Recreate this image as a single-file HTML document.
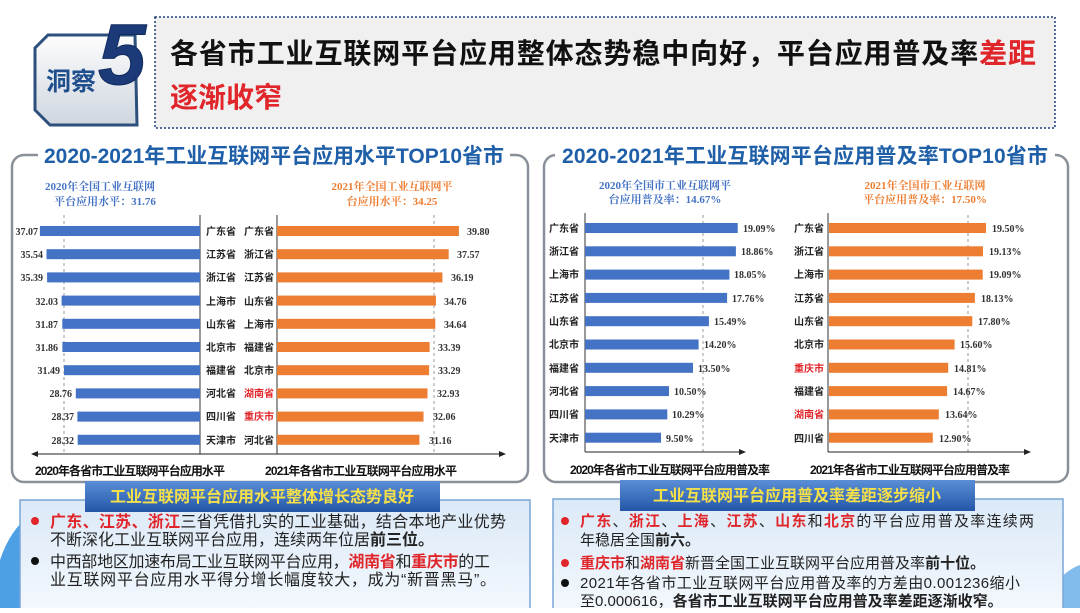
<!DOCTYPE html>
<html><head><meta charset="utf-8"><style>
body{margin:0;width:1080px;height:608px;overflow:hidden;background:#fff;font-family:"Liberation Sans","Noto Sans CJK SC",sans-serif}
svg text{font-family:"Liberation Sans","Noto Sans CJK SC",sans-serif}
svg .v, svg .v text{font-family:"Liberation Serif","Noto Serif CJK SC",serif;font-size:10px;font-weight:bold;fill:#333}
.p{font-size:10px;font-weight:bold;fill:#222}
svg .r{fill:#e0262a}
</style></head><body>
<svg width="1080" height="608" viewBox="0 0 1080 608" xmlns="http://www.w3.org/2000/svg">
<defs>
<linearGradient id="bg1" x1="0" y1="0" x2="0" y2="1"><stop offset="0" stop-color="#fdfdfd"/><stop offset="1" stop-color="#cfd6df"/></linearGradient>
<linearGradient id="ban" x1="0" y1="0" x2="0" y2="1"><stop offset="0" stop-color="#5a8fd6"/><stop offset="1" stop-color="#2456a8"/></linearGradient>
<linearGradient id="box" x1="0" y1="0" x2="0" y2="1"><stop offset="0" stop-color="#dbe9f7"/><stop offset="1" stop-color="#f3f8fd"/></linearGradient>
<marker id="ar" markerWidth="8" markerHeight="8" refX="6" refY="3" orient="auto"><path d="M0,0 L7,3 L0,6z" fill="#222"/></marker>
<marker id="al" markerWidth="8" markerHeight="8" refX="1" refY="3" orient="auto"><path d="M7,0 L0,3 L7,6z" fill="#222"/></marker>
</defs>
<!-- header -->
<rect x="155" y="17" width="900" height="111" fill="#f0f0f0" stroke="#1f3f7a" stroke-width="1.5" stroke-dasharray="2,2"/>
<path d="M48,35 L135,35 L137,125 L50,125 L35,110 L35,48 Z" fill="url(#bg1)" stroke="#2c4f7c" stroke-width="3"/>
<text x="46" y="90" font-size="25" font-weight="bold" fill="#1f4e8c">洞察</text>
<text x="98" y="84" font-size="86" font-weight="bold" font-style="italic" fill="#1c3a78" stroke="#0f2a5c" stroke-width="1" style="font-family:'Liberation Sans',sans-serif">5</text>
<text x="170" y="63" font-size="28" font-weight="bold" fill="#111" textLength="866">各省市工业互联网平台应用整体态势稳中向好，平台应用普及率<tspan class="r">差距</tspan></text>
<text x="170" y="107" font-size="28" font-weight="bold" fill="#e0262a">逐渐收窄</text>

<!-- panels -->
<rect x="12" y="155" width="516" height="327" rx="12" fill="#fff" stroke="#8a9099" stroke-width="2.5"/>
<rect x="544" y="155" width="524" height="327" rx="12" fill="#fff" stroke="#8a9099" stroke-width="2.5"/>
<rect x="38" y="145" width="472" height="22" fill="#fff"/>
<rect x="555" y="145" width="500" height="22" fill="#fff"/>
<text x="44" y="163" font-size="21" font-weight="bold" fill="#1f5fa8" textLength="460">2020-2021年工业互联网平台应用水平TOP10省市</text>
<text x="562" y="163" font-size="21" font-weight="bold" fill="#1f5fa8" textLength="486">2020-2021年工业互联网平台应用普及率TOP10省市</text>

<!-- left chart -->
<text x="100" y="190" text-anchor="middle" class="v" style="fill:#4472c4;font-size:11px">2020年全国工业互联网</text>
<text x="105" y="205" text-anchor="middle" class="v" style="fill:#4472c4;font-size:11px">平台应用水平：31.76</text>
<text x="392" y="190" text-anchor="middle" class="v" style="fill:#ed7d31;font-size:11px">2021年全国工业互联网平</text>
<text x="392" y="205" text-anchor="middle" class="v" style="fill:#ed7d31;font-size:11px">台应用水平：34.25</text>
<line x1="64" y1="215" x2="64" y2="452" stroke="#999" stroke-dasharray="3,3"/>
<line x1="434" y1="215" x2="434" y2="452" stroke="#999" stroke-dasharray="3,3"/>
<line x1="200" y1="215" x2="200" y2="454" stroke="#333"/>
<line x1="277" y1="215" x2="277" y2="454" stroke="#333"/>
<line x1="32" y1="454" x2="505" y2="454" stroke="#222" marker-start="url(#al)" marker-end="url(#ar)"/>
<g fill="#4472c4">
<rect x="39.9" y="226" width="160.1" height="10"/><rect x="46.5" y="249.2" width="153.5" height="10"/><rect x="47.1" y="272.4" width="152.9" height="10"/><rect x="61.6" y="295.6" width="138.4" height="10"/><rect x="62.3" y="318.8" width="137.7" height="10"/><rect x="62.4" y="342" width="137.6" height="10"/><rect x="64" y="365.2" width="136" height="10"/><rect x="75.8" y="388.4" width="124.2" height="10"/><rect x="77.4" y="411.6" width="122.6" height="10"/><rect x="77.7" y="434.8" width="122.3" height="10"/>
</g>
<g fill="#ed7d31">
<rect x="277" y="226" width="181.9" height="10"/><rect x="277" y="249.2" width="171.7" height="10"/><rect x="277" y="272.4" width="165.4" height="10"/><rect x="277" y="295.6" width="158.9" height="10"/><rect x="277" y="318.8" width="158.3" height="10"/><rect x="277" y="342" width="152.6" height="10"/><rect x="277" y="365.2" width="152.1" height="10"/><rect x="277" y="388.4" width="150.5" height="10"/><rect x="277" y="411.6" width="146.5" height="10"/><rect x="277" y="434.8" width="142.4" height="10"/>
</g>
<g class="v" text-anchor="end">
<text x="38" y="235">37.07</text><text x="43" y="258">35.54</text><text x="43" y="281">35.39</text><text x="58" y="305">32.03</text><text x="58" y="328">31.87</text><text x="58" y="351">31.86</text><text x="60" y="374">31.49</text><text x="72" y="397">28.76</text><text x="74" y="420">28.37</text><text x="74" y="444">28.32</text>
</g>
<g class="v">
<text x="467" y="235">39.80</text><text x="457" y="258">37.57</text><text x="451" y="281">36.19</text><text x="444" y="305">34.76</text><text x="444" y="328">34.64</text><text x="438" y="351">33.39</text><text x="438" y="374">33.29</text><text x="437" y="397">32.93</text><text x="433" y="420">32.06</text><text x="429" y="444">31.16</text>
</g>
<g class="p" text-anchor="middle">
<text x="221" y="235">广东省</text><text x="221" y="258">江苏省</text><text x="221" y="281">浙江省</text><text x="221" y="305">上海市</text><text x="221" y="328">山东省</text><text x="221" y="351">北京市</text><text x="221" y="374">福建省</text><text x="221" y="397">河北省</text><text x="221" y="420">四川省</text><text x="221" y="444">天津市</text>
<text x="259" y="235">广东省</text><text x="259" y="258">浙江省</text><text x="259" y="281">江苏省</text><text x="259" y="305">山东省</text><text x="259" y="328">上海市</text><text x="259" y="351">福建省</text><text x="259" y="374">北京市</text><text x="259" y="397" class="r">湖南省</text><text x="259" y="420" class="r">重庆市</text><text x="259" y="444">河北省</text>
</g>
<text x="35" y="475" font-size="12" font-weight="bold" fill="#111" textLength="190">2020年各省市工业互联网平台应用水平</text>
<text x="265" y="475" font-size="12" font-weight="bold" fill="#111" textLength="192">2021年各省市工业互联网平台应用水平</text>

<!-- right chart -->
<text x="665" y="189" text-anchor="middle" class="v" style="fill:#4472c4;font-size:11px">2020年全国市工业互联网平</text>
<text x="665" y="203" text-anchor="middle" class="v" style="fill:#4472c4;font-size:11px">台应用普及率：14.67%</text>
<text x="925" y="189" text-anchor="middle" class="v" style="fill:#ed7d31;font-size:11px">2021年全国市工业互联网</text>
<text x="925" y="203" text-anchor="middle" class="v" style="fill:#ed7d31;font-size:11px">平台应用普及率：17.50%</text>
<line x1="703" y1="215" x2="703" y2="452" stroke="#999" stroke-dasharray="3,3"/>
<line x1="968" y1="215" x2="968" y2="452" stroke="#999" stroke-dasharray="3,3"/>
<line x1="585" y1="213" x2="585" y2="452" stroke="#333"/>
<line x1="828" y1="213" x2="828" y2="452" stroke="#333"/>
<line x1="585" y1="452" x2="745" y2="452" stroke="#222" marker-end="url(#ar)"/>
<line x1="828" y1="452" x2="1030" y2="452" stroke="#222" marker-end="url(#ar)"/>
<g fill="#4472c4">
<rect x="585" y="223" width="152.7" height="10"/><rect x="585" y="246.3" width="150.9" height="10"/><rect x="585" y="269.6" width="144.4" height="10"/><rect x="585" y="292.9" width="142.1" height="10"/><rect x="585" y="316.2" width="123.9" height="10"/><rect x="585" y="339.5" width="113.6" height="10"/><rect x="585" y="362.8" width="108" height="10"/><rect x="585" y="386.1" width="84" height="10"/><rect x="585" y="409.4" width="82.3" height="10"/><rect x="585" y="432.7" width="76" height="10"/>
</g>
<g fill="#ed7d31">
<rect x="829" y="223" width="157" height="10"/><rect x="829" y="246.3" width="154" height="10"/><rect x="829" y="269.6" width="153.7" height="10"/><rect x="829" y="292.9" width="145.9" height="10"/><rect x="829" y="316.2" width="143.3" height="10"/><rect x="829" y="339.5" width="125.6" height="10"/><rect x="829" y="362.8" width="119.2" height="10"/><rect x="829" y="386.1" width="118.1" height="10"/><rect x="829" y="409.4" width="109.8" height="10"/><rect x="829" y="432.7" width="103.8" height="10"/>
</g>
<g class="v">
<text x="743" y="232">19.09%</text><text x="741" y="255">18.86%</text><text x="734" y="278">18.05%</text><text x="732" y="302">17.76%</text><text x="714" y="325">15.49%</text><text x="704" y="348">14.20%</text><text x="698" y="372">13.50%</text><text x="674" y="395">10.50%</text><text x="672" y="418">10.29%</text><text x="666" y="442">9.50%</text>
<text x="992" y="232">19.50%</text><text x="989" y="255">19.13%</text><text x="989" y="278">19.09%</text><text x="981" y="302">18.13%</text><text x="978" y="325">17.80%</text><text x="960" y="348">15.60%</text><text x="954" y="372">14.81%</text><text x="953" y="395">14.67%</text><text x="945" y="418">13.64%</text><text x="939" y="442">12.90%</text>
</g>
<g class="p" text-anchor="end">
<text x="579" y="232">广东省</text><text x="579" y="255">浙江省</text><text x="579" y="278">上海市</text><text x="579" y="302">江苏省</text><text x="579" y="325">山东省</text><text x="579" y="348">北京市</text><text x="579" y="372">福建省</text><text x="579" y="395">河北省</text><text x="579" y="418">四川省</text><text x="579" y="442">天津市</text>
<text x="824" y="232">广东省</text><text x="824" y="255">浙江省</text><text x="824" y="278">上海市</text><text x="824" y="302">江苏省</text><text x="824" y="325">山东省</text><text x="824" y="348">北京市</text><text x="824" y="372" class="r">重庆市</text><text x="824" y="395">福建省</text><text x="824" y="418" class="r">湖南省</text><text x="824" y="442">四川省</text>
</g>
<text x="570" y="474" font-size="12" font-weight="bold" fill="#111" textLength="200">2020年各省市工业互联网平台应用普及率</text>
<text x="810" y="474" font-size="12" font-weight="bold" fill="#111" textLength="200">2021年各省市工业互联网平台应用普及率</text>

<!-- bottom boxes -->
<path d="M0,560 Q10,530 30,515 L30,608 L0,608Z" fill="#2f8fe0" opacity="0.85"/>
<path d="M1050,590 Q1065,570 1080,565 L1080,608 L1050,608Z" fill="#2f8fe0" opacity="0.6"/>
<rect x="20" y="500" width="510" height="110" fill="url(#box)" stroke="#7aa6d6" stroke-width="1.5"/>
<rect x="553" y="499" width="510" height="112" fill="url(#box)" stroke="#7aa6d6" stroke-width="1.5"/>
<rect x="85" y="481" width="355" height="31" fill="url(#ban)"/>
<rect x="620" y="480" width="355" height="31" fill="url(#ban)"/>
<text x="262" y="502" text-anchor="middle" font-size="16" font-weight="bold" fill="#f5e04a">工业互联网平台应用水平整体增长态势良好</text>
<text x="797" y="501" text-anchor="middle" font-size="16" font-weight="bold" fill="#f5e04a">工业互联网平台应用普及率差距逐步缩小</text>

<g font-size="16" fill="#222">
<circle cx="35" cy="521" r="4" fill="#e0262a"/>
<text x="50" y="527" textLength="456"><tspan class="r" font-weight="bold">广东、江苏、浙江</tspan>三省凭借扎实的工业基础，结合本地产业优势</text>
<text x="50" y="545">不断深化工业互联网平台应用，连续两年位居<tspan font-weight="bold">前三位。</tspan></text>
<circle cx="35" cy="561" r="4" fill="#111"/>
<text x="50" y="567" textLength="440">中西部地区加速布局工业互联网平台应用，<tspan class="r" font-weight="bold">湖南省</tspan>和<tspan class="r" font-weight="bold">重庆市</tspan>的工</text>
<text x="50" y="585" textLength="446">业互联网平台应用水平得分增长幅度较大，成为“新晋黑马”。</text>
</g>
<g font-size="15" fill="#222">
<circle cx="565" cy="521" r="4" fill="#e0262a"/>
<text x="580" y="526" textLength="454"><tspan class="r" font-weight="bold">广东</tspan>、<tspan class="r" font-weight="bold">浙江</tspan>、<tspan class="r" font-weight="bold">上海</tspan>、<tspan class="r" font-weight="bold">江苏</tspan>、<tspan class="r" font-weight="bold">山东</tspan>和<tspan class="r" font-weight="bold">北京</tspan>的平台应用普及率连续两</text>
<text x="580" y="545">年稳居全国<tspan font-weight="bold">前六。</tspan></text>
<circle cx="565" cy="563" r="4" fill="#e0262a"/>
<text x="580" y="568"><tspan class="r" font-weight="bold">重庆市</tspan>和<tspan class="r" font-weight="bold">湖南省</tspan>新晋全国工业互联网平台应用普及率<tspan font-weight="bold">前十位。</tspan></text>
<circle cx="565" cy="583" r="4" fill="#111"/>
<text x="580" y="588" textLength="440">2021年各省市工业互联网平台应用普及率的方差由0.001236缩小</text>
<text x="580" y="606">至0.000616，<tspan font-weight="bold">各省市工业互联网平台应用普及率差距逐渐收窄。</tspan></text>
</g>
</svg>
</body></html>
